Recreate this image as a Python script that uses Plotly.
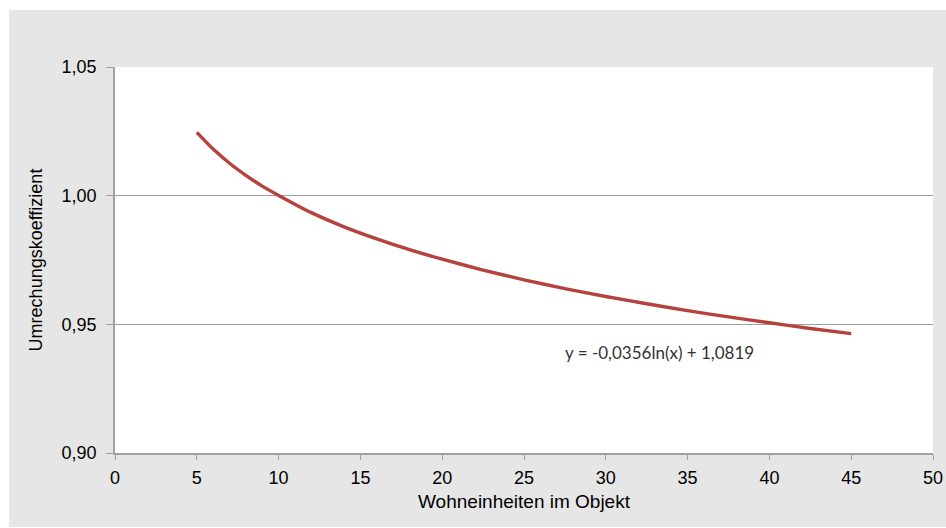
import plotly.graph_objects as go

# Values
wohneinheiten = [5, 6, 7, 8, 9, 10, 12, 14, 16, 18, 20, 22.5, 25, 27.5, 30, 32.5, 35, 37.5, 40, 42.5, 45]
koeffizient = [1.0246, 1.0181, 1.0126, 1.0079, 1.0037, 1.0001, 0.9934, 0.9879, 0.9832, 0.9790,
               0.9753, 0.9711, 0.9673, 0.9639, 0.9608, 0.9580, 0.9553, 0.9529, 0.9506, 0.9484, 0.9464]
x_ticks = [0, 5, 10, 15, 20, 25, 30, 35, 40, 45, 50]
y_ticks = [0.90, 0.95, 1.00, 1.05]
y_tick_labels = ["0,90", "0,95", "1,00", "1,05"]
equation_text = "y = -0,0356ln(x) + 1,0819"

W, H = 946, 528
L, R, T, B = 115, 13, 67, 75
PW, PH = W - L - R, H - T - B

fig = go.Figure()
fig.add_trace(go.Scatter(
    x=wohneinheiten, y=koeffizient, mode="lines",
    line=dict(color="#b5423c", width=3.4, shape="spline", smoothing=0.6),
    showlegend=False, hoverinfo="skip"))

# white strips outside the gray chart area (top, left, bottom)
fig.add_shape(type="rect", xref="paper", yref="paper",
              x0=-L / PW, x1=(W - L) / PW, y0=(H - B - 10) / PH, y1=(H - B) / PH,
              fillcolor="#ffffff", line=dict(width=0), layer="below")
fig.add_shape(type="rect", xref="paper", yref="paper",
              x0=-L / PW, x1=(9 - L) / PW, y0=-B / PH, y1=(H - B) / PH,
              fillcolor="#ffffff", line=dict(width=0), layer="below")
fig.add_shape(type="rect", xref="paper", yref="paper",
              x0=-L / PW, x1=(W - L) / PW, y0=-B / PH, y1=(1 - B) / PH,
              fillcolor="#ffffff", line=dict(width=0), layer="below")

fig.add_annotation(x=33.3, y=0.9389, xref="x", yref="y", text=equation_text,
                   showarrow=False,
                   font=dict(family="Lato, Open Sans, sans-serif", size=17, color="#333333"))

axis_font = dict(family="Liberation Sans, Arial, sans-serif", size=18, color="#000000")
title_font = dict(family="Liberation Sans, Arial, sans-serif", size=19, color="#000000")
fig.update_layout(
    width=W, height=H,
    margin=dict(l=L, r=R, t=T, b=B, autoexpand=False),
    paper_bgcolor="#e6e6e6", plot_bgcolor="#ffffff",
    font=axis_font,
    xaxis=dict(range=[0, 50], tickvals=x_ticks, ticks="outside", ticklen=5,
               tickcolor="#a0a0a0", showline=True, linecolor="#a0a0a0", linewidth=1.5,
               showgrid=False, zeroline=False, tickfont=axis_font, automargin=False,
               ticklabelstandoff=3,
               title=dict(text="Wohneinheiten im Objekt", font=title_font, standoff=7)),
    yaxis=dict(range=[0.90, 1.05], tickvals=y_ticks, ticktext=y_tick_labels,
               ticks="outside", ticklen=7, tickcolor="#a0a0a0",
               showline=True, linecolor="#a0a0a0", linewidth=1.5,
               showgrid=True, gridcolor="#a0a0a0", gridwidth=1.2, zeroline=False,
               tickfont=axis_font, automargin=False, ticklabelstandoff=6,
               title=dict(text="Umrechungskoeffizient", font=axis_font, standoff=14)),
)

fig.write_html("out.html", config={"displayModeBar": False},
               post_script="document.body.style.margin='0';document.body.style.overflow='hidden';")
